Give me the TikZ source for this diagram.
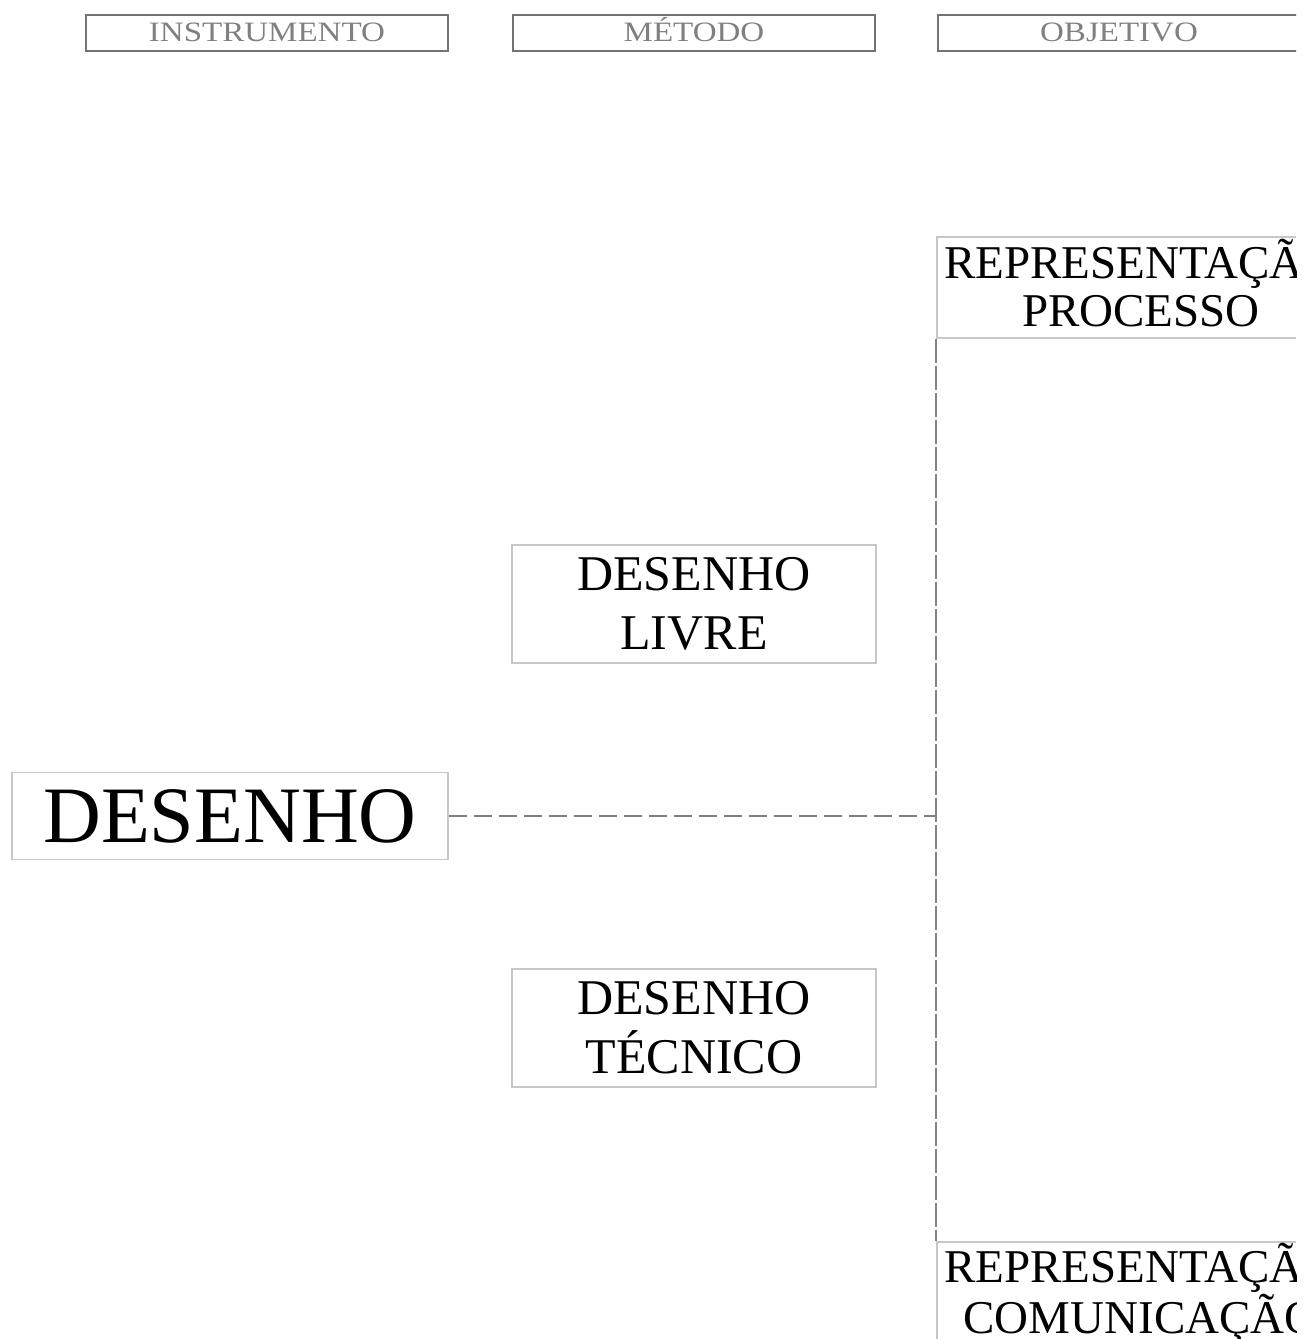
\documentclass[tikz,border=0pt]{standalone}
\usepackage{fontspec,graphicx}
\setmainfont{Liberation Serif}
\usepackage{tikz}
\usetikzlibrary{calc}
\tikzset{
	% header boxes on top, plain boxes for the items
	head box/.style={rectangle,draw=black!55,line width=1.1pt,minimum width=181pt,minimum height=18pt,inner sep=0pt,text=black!50,text height=8.6pt,text depth=0pt,font=\fontsize{13}{15}\selectfont},
	item box/.style={rectangle,draw=black!22,line width=0.6pt,inner sep=0pt,align=center,minimum width=182pt,minimum height=59pt,font=\fontsize{25}{29.5}\selectfont},
	goal box/.style={rectangle,draw=black!22,line width=0.6pt,inner sep=0pt,align=center,minimum width=204pt,minimum height=50.5pt,font=\fontsize{23.5}{24}\selectfont},
	link line/.style={draw=black!50,line width=0.9pt,dash pattern=on 9pt off 3.5pt},
	stem line/.style={draw=black!48,line width=1pt,dash pattern=on 12pt off 1.5pt}
}
\begin{document}
\begin{tikzpicture}[x=0.5pt,y=-0.5pt]
			\useasboundingbox (0,0) rectangle (1303,1339);
			% macro for the stretched header texts
			\newcommand{\hdrtext}[1]{\scalebox{1.27}[1.08]{#1}}
			\begin{scope}
			\clip (0,0) rectangle (1296,1339);
			
			% headers
			\node(instrumento)[head box] at (267,33){\hdrtext{INSTRUMENTO}};
			\node(metodo)[head box] at (694,33){\hdrtext{MÉTODO}};
			\node(objetivo)[head box] at (1119,33){\hdrtext{OBJETIVO}};
			
			% instrument
			\node(desenho)[item box,minimum width=218pt,minimum height=43.5pt,text height=26.5pt,text depth=0pt,font=\fontsize{40}{44}\selectfont] at (230,816){DESENHO};
			
			% methods
			\node(livre)[item box] at (694,604){DESENHO\\LIVRE};
			\node(tecnico)[item box] at (694,1028){DESENHO\\TÉCNICO};
			
			% goals
			\node(processo)[goal box] at (1141,287.5){REPRESENTAÇ\smash{Ã}O\\PROCESSO};
			\node(comunicacao)[goal box] at (1141,1292.5){REPRESENTAÇ\smash{Ã}O\\COMUNICA\smash{Ç}ÃO};
			
			% connectors
			\coordinate(joint) at (desenho.east -| processo.south west);
			\draw[link line](desenho.east)--(joint);
			\draw[stem line](processo.south west)--(comunicacao.north west);
			\end{scope}
		\end{tikzpicture}
\end{document}
